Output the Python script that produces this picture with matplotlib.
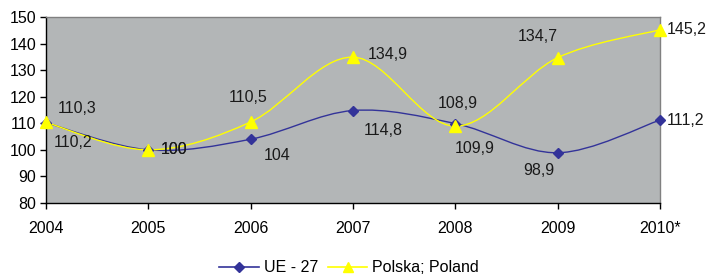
import matplotlib
matplotlib.use("Agg")
import matplotlib.pyplot as plt
from matplotlib.path import Path
from matplotlib.patches import PathPatch
from matplotlib.lines import Line2D

plt.rcParams['font.family'] = ['Liberation Sans', 'DejaVu Sans']

years = ['2004', '2005', '2006', '2007', '2008', '2009', '2010*']
ue27 = [110.2, 100, 104, 114.8, 109.9, 98.9, 111.2]
polska = [110.3, 100, 110.5, 134.9, 108.9, 134.7, 145.2]
ue_labels = ['110,2', '100', '104', '114,8', '109,9', '98,9', '111,2']
pl_labels = ['110,3', '100', '110,5', '134,9', '108,9', '134,7', '145,2']

# label offsets in pixels (dx, dy), hand placed like the original
ue_off = [(27, -20), (26, 0), (26, -16), (30, -20), (19, -25), (-19, -18), (7, 0)]
pl_off = [(31, 14), (26, 0), (-3, 24), (35, 3), (2, 23), (-20, 21), (7, 0)]

BLUE = '#333399'
YELLOW = '#FFFF00'
FS = 11.5


def smooth_path(xs, ys):
    # bezier smoothing a la excel (catmull-rom control points)
    pts = list(zip(xs, ys))
    n = len(pts)
    verts = [pts[0]]
    codes = [Path.MOVETO]
    for i in range(n - 1):
        p0 = pts[i - 1] if i > 0 else pts[i]
        p1 = pts[i]
        p2 = pts[i + 1]
        p3 = pts[i + 2] if i + 2 < n else pts[i + 1]
        c1 = (p1[0] + (p2[0] - p0[0]) / 6, p1[1] + (p2[1] - p0[1]) / 6)
        c2 = (p2[0] - (p3[0] - p1[0]) / 6, p2[1] - (p3[1] - p1[1]) / 6)
        verts += [c1, c2, p2]
        codes += [Path.CURVE4] * 3
    return Path(verts, codes)


fig = plt.figure(figsize=(7.07, 2.79), dpi=100)
ax = fig.add_axes([46 / 707, 1 - 203 / 279, 614 / 707, 186 / 279])
ax.set_facecolor('#B3B6B7')

x = list(range(len(years)))

ax.add_patch(PathPatch(smooth_path(x, ue27), fill=False, edgecolor=BLUE, lw=1.0, zorder=2))
ax.add_patch(PathPatch(smooth_path(x, polska), fill=False, edgecolor=YELLOW, lw=1.0, zorder=3))
ax.plot(x, ue27, ls='none', marker='D', ms=5, color=BLUE, zorder=4, clip_on=False)
ax.plot(x, polska, ls='none', marker='^', ms=8, color=YELLOW, mec=YELLOW, zorder=5, clip_on=False)

for i in range(len(x)):
    ha = 'left' if i == len(x) - 1 else 'center'
    ax.annotate(ue_labels[i], (x[i], ue27[i]), xytext=ue_off[i], textcoords='offset pixels',
                ha=ha, va='center', fontsize=FS, color='#1a1a1a', annotation_clip=False)
    ax.annotate(pl_labels[i], (x[i], polska[i]), xytext=pl_off[i], textcoords='offset pixels',
                ha=ha, va='center', fontsize=FS, color='#1a1a1a', annotation_clip=False)

ax.set_xlim(0, len(years) - 1)
ax.set_ylim(80, 150)
ax.set_xticks(x)
ax.set_xticklabels(years)
ax.set_yticks(range(80, 151, 10))
ax.tick_params(axis='both', labelsize=FS, length=4, width=1, color='black', direction='out')
ax.tick_params(axis='x', pad=9)
ax.tick_params(axis='y', pad=3)
for s in ['left', 'bottom']:
    ax.spines[s].set_color('black')
    ax.spines[s].set_linewidth(1.0)
for s in ['top', 'right']:
    ax.spines[s].set_color('#808080')
    ax.spines[s].set_linewidth(1.0)

handles = [Line2D([], [], color=BLUE, marker='D', ms=5, lw=1.2),
           Line2D([], [], color=YELLOW, marker='^', ms=7, lw=1.2)]
fig.legend(handles, ['UE - 27', 'Polska; Poland'], loc='center', ncol=2,
           bbox_to_anchor=(349 / 707, 1 - 268 / 279), frameon=False, fontsize=FS,
           handlelength=2.5, handletextpad=0.3, columnspacing=0.6)

fig.savefig('out.png', dpi=100)
